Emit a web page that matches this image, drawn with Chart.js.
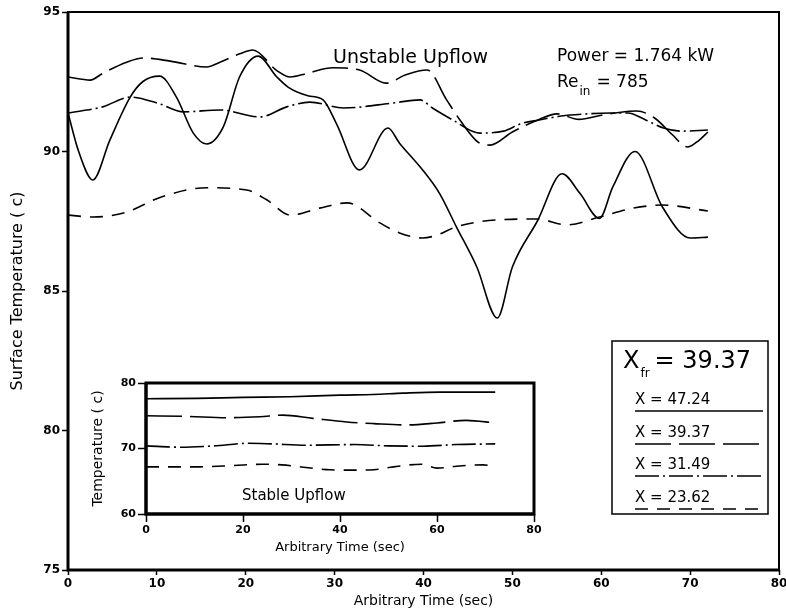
<!DOCTYPE html>
<html>
<head>
<meta charset="utf-8">
<script src="https://cdn.jsdelivr.net/npm/chart.js@4"></script>
<style>
  body { margin: 0; background: #fff; }
  #wrap { position: relative; width: 786px; height: 613px; }
  #main { position: absolute; left: 0; top: 0; }
  #inset { position: absolute; left: 88px; top: 373px; }
</style>
</head>
<body>
<div id="wrap">
  <canvas id="main" width="786" height="613"></canvas>
  <canvas id="inset" width="460" height="190"></canvas>
</div>
<script>
// unstable upflow: surface temperature at four axial positions
var timeA = [0, 1.2, 2.8, 4.7, 7, 8.4, 10.3, 12.2, 14.1, 15.6, 17.5, 19.3, 21.4, 23.5, 24.8, 27, 28.7, 30.2, 32.8, 36, 37.3, 39.9, 41.8, 43.7, 46, 48.3, 50, 52.8, 55.6, 57.6, 59.8, 61.3, 63.8, 66.9, 70, 72];
var tempA = [91.38, 90.0, 88.98, 90.4, 91.95, 92.5, 92.7, 91.95, 90.66, 90.27, 90.9, 92.67, 93.42, 92.67, 92.3, 92.0, 91.85, 91.0, 89.34, 90.84, 90.3, 89.34, 88.5, 87.3, 85.86, 84.03, 85.86, 87.5, 89.2, 88.5, 87.6, 88.73, 90.0, 88.0, 86.9, 86.93];

var timeB = [0, 2.5, 3.9, 6.6, 8.5, 11.5, 15.6, 17.1, 19.3, 20.8, 23.5, 25, 26.9, 29.8, 32.8, 35.8, 38, 40.4, 42.6, 44.1, 46.3, 47.5, 50, 53, 55, 57.5, 60, 62, 64, 66, 68, 69.7, 71, 72];
var tempB = [92.67, 92.56, 92.8, 93.2, 93.35, 93.24, 93.03, 93.2, 93.5, 93.64, 92.9, 92.67, 92.8, 93.0, 92.92, 92.45, 92.75, 92.92, 91.85, 91.13, 90.3, 90.23, 90.7, 91.15, 91.35, 91.15, 91.3, 91.4, 91.45, 91.2, 90.6, 90.16, 90.4, 90.7];

var timeC = [0, 3.9, 7, 10.2, 13, 17.1, 21.6, 24.6, 27.2, 31, 36.6, 39.6, 41, 43.3, 46.3, 49, 51, 53, 55.5, 58, 61, 63, 65, 67, 69, 72];
var tempC = [91.38, 91.6, 91.95, 91.72, 91.42, 91.49, 91.24, 91.6, 91.77, 91.56, 91.74, 91.85, 91.56, 91.13, 90.66, 90.73, 91.0, 91.13, 91.27, 91.34, 91.38, 91.38, 91.13, 90.84, 90.73, 90.77];

var timeD = [0, 2.8, 6.6, 10.5, 15.6, 20.1, 22.4, 25, 28.3, 31.4, 35.1, 37.3, 39.9, 41.5, 43.7, 48.3, 52.8, 56.1, 59.8, 63.6, 66.9, 72];
var tempD = [87.72, 87.65, 87.83, 88.37, 88.7, 88.62, 88.26, 87.72, 87.97, 88.16, 87.44, 87.08, 86.9, 87.0, 87.3, 87.55, 87.58, 87.37, 87.65, 87.97, 88.08, 87.87];

// stable upflow (inset)
var insetTimeA = [0, 10.5, 20, 29.7, 40, 46.8, 53, 60.6, 72];
var insetTempA = [77.6, 77.65, 77.8, 77.9, 78.15, 78.25, 78.45, 78.6, 78.6];
var insetTimeB = [0, 8.4, 16.7, 23.5, 28.2, 34.4, 41.4, 47, 53.8, 60, 66, 72];
var insetTempB = [75.0, 74.9, 74.7, 74.85, 75.1, 74.6, 74.05, 73.8, 73.6, 73.9, 74.3, 73.9];
var insetTimeC = [0, 7, 14, 21, 26, 33, 43, 50, 57, 64, 72];
var insetTempC = [70.4, 70.2, 70.4, 70.8, 70.7, 70.5, 70.6, 70.4, 70.35, 70.6, 70.7];
var insetTimeD = [0, 11, 18, 24, 28, 33, 38, 43, 47, 51, 56.8, 60, 64, 69.5, 72];
var insetTempD = [67.2, 67.2, 67.4, 67.6, 67.5, 67.1, 66.75, 66.7, 66.75, 67.2, 67.6, 67.0, 67.3, 67.5, 67.2];

var seriesLabels = ["X = 47.24", "X = 39.37", "X = 31.49", "X = 23.62"];
var mainTicksX = [0, 10, 20, 30, 40, 50, 60, 70, 80];
var mainTicksY = [75, 80, 85, 90, 95];
var insetTicksX = [0, 20, 40, 60, 80];
var insetTicksY = [60, 70, 80];

var FONT = '"DejaVu Sans", sans-serif';
var dashes = [[], [36, 8], [24, 4, 2, 4], [13, 9]];

Chart.defaults.font.family = FONT;
Chart.defaults.color = "#000";

function pts(t, v) {
  return t.map(function (x, i) { return { x: x, y: v[i] }; });
}

function makeSets(series) {
  return series.map(function (s, i) {
    return {
      label: seriesLabels[i],
      data: pts(s[0], s[1]),
      borderColor: "#000",
      borderWidth: 1.6,
      borderDash: dashes[i],
      pointRadius: 0,
      cubicInterpolationMode: "monotone",
      fill: false
    };
  });
}

function axis(min, max, ticks, title, size, pad, fit) {
  return {
    type: "linear",
    min: min,
    max: max,
    afterBuildTicks: function (s) { s.ticks = ticks.map(function (v) { return { value: v }; }); },
    ticks: { font: { size: size.tick, weight: "bold" }, padding: 2, maxRotation: 0, color: "#000" },
    grid: { drawOnChartArea: false, drawTicks: true, tickLength: size.len, tickWidth: 1.5, tickColor: "#000" },
    border: { display: false },
    title: { display: true, text: title, font: { size: size.title }, padding: pad, color: "#000" },
    afterFit: fit
  };
}

function frame(c, a, side, rest) {
  c.strokeStyle = "#000";
  c.lineWidth = rest;
  c.strokeRect(a.left, a.top, a.right - a.left, a.bottom - a.top);
  c.lineWidth = side;
  c.beginPath();
  c.moveTo(a.left, a.top);
  c.lineTo(a.left, a.bottom);
  c.lineTo(a.right, a.bottom);
  c.stroke();
}

function subText(c, x, y, big, small, main, sub, rest, drop, gap) {
  c.font = big + "px " + FONT;
  c.fillText(main, x, y);
  x += c.measureText(main).width + 1;
  c.font = small + "px " + FONT;
  c.fillText(sub, x, y + drop);
  x += c.measureText(sub).width + gap;
  c.font = big + "px " + FONT;
  c.fillText(rest, x, y);
}

// frame, annotations and the X-position key
var mainDecor = {
  id: "mainDecor",
  afterDatasetsDraw: function (chart) {
    var c = chart.ctx;
    c.save();
    frame(c, chart.chartArea, 3, 2);

    c.fillStyle = "#000";
    c.textBaseline = "middle";
    c.textAlign = "left";
    c.font = "19px " + FONT;
    c.fillText("Unstable Upflow", 333, 58);
    c.font = "17px " + FONT;
    c.fillText("Power = 1.764 kW", 557, 57);
    subText(c, 557, 83, 17, 12, "Re", "in", "= 785", 9, 6);

    // key box
    c.fillStyle = "#fff";
    c.fillRect(612, 341, 156, 173);
    c.lineWidth = 1.5;
    c.strokeRect(612, 341, 156, 173);
    c.fillStyle = "#000";
    subText(c, 623, 362, 24, 12, "X", "fr", "= 39.37", 12, 5);

    var rows = [400, 433, 465, 498];
    chart.data.datasets.forEach(function (ds, i) {
      c.font = "15px " + FONT;
      c.fillText(ds.label, 635, rows[i]);
      c.setLineDash(ds.borderDash);
      c.lineWidth = 1.6;
      c.beginPath();
      c.moveTo(635, rows[i] + 11);
      c.lineTo(763, rows[i] + 11);
      c.stroke();
    });
    c.restore();
  }
};

var insetDecor = {
  id: "insetDecor",
  afterDatasetsDraw: function (chart) {
    var c = chart.ctx;
    c.save();
    frame(c, chart.chartArea, 3, 3);
    c.fillStyle = "#000";
    c.textBaseline = "middle";
    c.font = "15px " + FONT;
    c.fillText("Stable Upflow", 154, 123);
    c.restore();
  }
};

new Chart(document.getElementById("main"), {
  type: "line",
  data: {
    datasets: makeSets([[timeA, tempA], [timeB, tempB], [timeC, tempC], [timeD, tempD]])
  },
  options: {
    responsive: false,
    animation: false,
    layout: { padding: { top: 12, right: 7, left: 0, bottom: 0 } },
    plugins: { legend: { display: false }, tooltip: { enabled: false } },
    scales: {
      x: axis(0, 80, mainTicksX, "Arbitrary Time (sec)", { tick: 12, len: 5, title: 14 },
        { top: 0, bottom: 3 }, function (s) { s.height = 43; s.paddingRight = 0; s.paddingLeft = 0; }),
      y: axis(75, 95, mainTicksY, "Surface Temperature ( c)", { tick: 12, len: 6, title: 16 },
        { top: 8, bottom: 0 }, function (s) { s.width = 68; })
    }
  },
  plugins: [mainDecor]
});

new Chart(document.getElementById("inset"), {
  type: "line",
  data: {
    datasets: makeSets([[insetTimeA, insetTempA], [insetTimeB, insetTempB], [insetTimeC, insetTempC], [insetTimeD, insetTempD]])
  },
  options: {
    responsive: false,
    animation: false,
    layout: { padding: { top: 10, right: 14, left: 0, bottom: 0 } },
    plugins: { legend: { display: false }, tooltip: { enabled: false } },
    scales: {
      x: axis(0, 80, insetTicksX, "Arbitrary Time (sec)", { tick: 11, len: 8, title: 13 },
        { top: 0, bottom: 8 }, function (s) { s.height = 49; s.paddingRight = 0; s.paddingLeft = 0; }),
      y: axis(60, 80, insetTicksY, "Temperature ( c)", { tick: 11, len: 8, title: 14 },
        { top: 2, bottom: 0 }, function (s) { s.width = 58; })
    }
  },
  plugins: [insetDecor]
});
</script>
</body>
</html>
